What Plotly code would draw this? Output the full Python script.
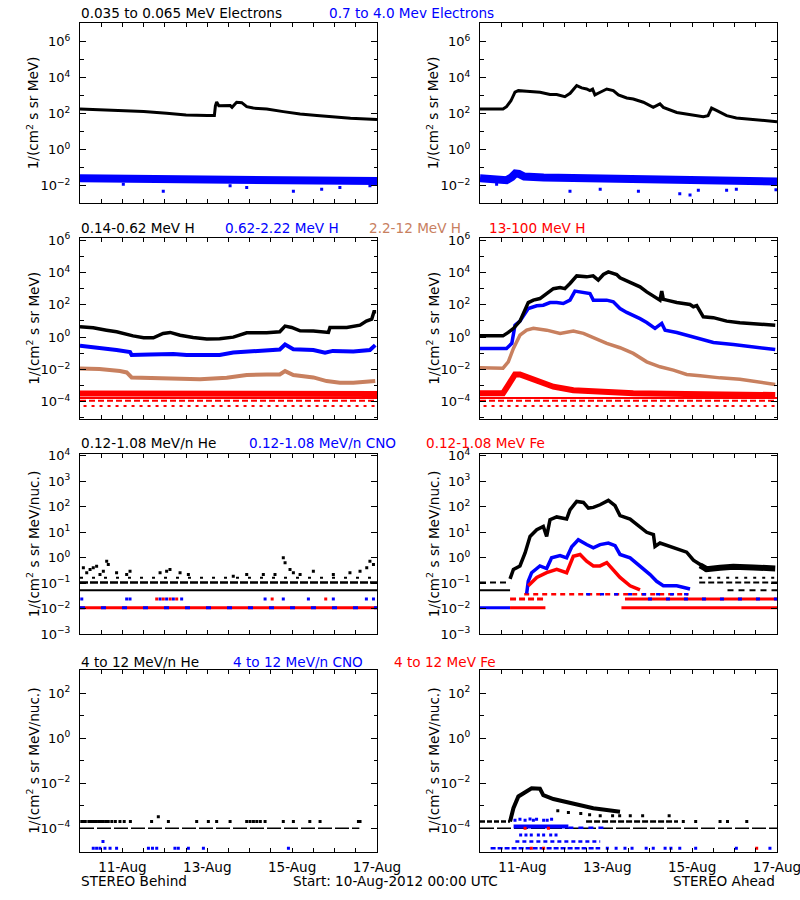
import plotly.graph_objects as go
from datetime import datetime, timedelta

BASE = datetime(2012, 8, 10)
BLACK, BLUE, BROWN, RED = "#000000", "#0000ff", "#c8805f", "#ff0000"
FONT = "DejaVu Sans"

# ---------------- data: hours after 10-Aug-2012 00:00 UTC, flux ----------------
# Row 1 electrons
eB_lo_h = [0, 11, 24.5, 36, 49, 60, 72, 76, 76.6, 77.3, 78.5, 85, 86, 88.6, 91.5, 94.3, 98, 105.6, 115, 124.5, 134, 143, 153, 162, 168]
eB_lo_v = [180, 166, 150, 130, 105, 85, 78, 78, 275, 450, 275, 280, 224, 430, 410, 245, 204, 180, 130, 95, 78, 65, 55, 50, 47]
eB_hi_h = [0, 24, 48, 72, 96, 120, 144, 168]
eB_hi_v = [0.026, 0.025, 0.023, 0.023, 0.021, 0.019, 0.019, 0.018]
eB_out_h = [24.5, 47.1, 84.9, 94.3, 120.7, 136.7, 147, 164]
eB_out_v = [0.012, 0.0049, 0.010, 0.008, 0.0049, 0.0064, 0.008, 0.010]

eA_lo_h = [0, 11, 13, 15, 17.5, 19.8, 21.7, 26.4, 34, 39.6, 43.4, 48, 51, 54.7, 57.5, 60.3, 62.2, 63.7, 65, 68,
           71.7, 75.4, 78.3, 83, 86.7, 92.4, 98, 101.8, 103.7, 111.3, 118.8, 126.3, 129, 131, 134, 139.5, 145, 154.6, 162, 168]
eA_lo_v = [180, 166, 180, 245, 520, 1550, 1900, 1740, 1550, 1150, 1150, 870, 1350, 3600, 2700, 2350, 1900, 2300, 1100, 1550,
           2350, 1900, 1100, 740, 650, 430, 224, 350, 224, 117, 87, 68, 78, 204, 148, 78, 58, 49, 41, 36]
eA_hi_h = [0, 12, 15, 18, 20, 22, 25, 36, 48, 72, 96, 120, 144, 168]
eA_hi_v = [0.026, 0.024, 0.020, 0.030, 0.048, 0.045, 0.032, 0.028, 0.027, 0.024, 0.021, 0.019, 0.018, 0.017]
eA_out_h = [9.4, 50.9, 68, 89.6, 113, 118.8, 123.5, 139.5, 145, 167.4]
eA_out_v = [0.012, 0.0049, 0.0064, 0.0049, 0.0035, 0.003, 0.0055, 0.0055, 0.0064, 0.006]

# Row 2 protons
pB1_h = [0, 7.5, 15, 20.7, 30, 36, 41.5, 47, 51, 56.6, 64, 71.7, 79, 86.7, 94.3, 105.6, 113, 116, 119.7, 124.5,
         132, 140.5, 141.4, 150.9, 158.4, 162, 165, 166.3, 167.5]
pB1_v = [4.4, 3.8, 2.7, 2.14, 1.2, 0.91, 0.91, 1.7, 1.95, 1.3, 0.95, 0.76, 0.8, 1.0, 1.86, 1.86, 2.14, 4.8, 4.0, 2.45,
         2.4, 1.95, 4.0, 4.0, 5.5, 9.8, 12.9, 37, 37]
pB2_h = [0, 11.3, 20.7, 28.3, 29.2, 39.6, 52.8, 60.3, 71.7, 79, 86.7, 98, 105.6, 113, 116, 120.7, 132, 138.6, 143, 154.6, 164, 167]
pB2_v = [0.29, 0.22, 0.16, 0.12, 0.078, 0.085, 0.09, 0.078, 0.085, 0.078, 0.11, 0.135, 0.16, 0.17, 0.35, 0.18, 0.16, 0.107, 0.14, 0.13, 0.16, 0.32]
pB3_h = [0, 11, 22.6, 26.4, 29.2, 39.6, 52.8, 67.9, 83, 94.3, 105.6, 113, 116, 120.7, 132, 139.5, 147, 154.6, 167]
pB3_v = [1.15e-2, 1.05e-2, 7.9e-3, 6.5e-3, 3.2e-3, 3.1e-3, 2.75e-3, 2.5e-3, 3.1e-3, 4.5e-3, 4.9e-3, 4.9e-3, 7.9e-3, 4.5e-3,
         3.2e-3, 1.9e-3, 1.5e-3, 1.5e-3, 1.9e-3]
pB4_h = [0, 168]
pB4_v = [3.2e-4, 3.0e-4]
p_red_levels = [1.7e-4, 1.15e-4, 5.5e-5]

pA1_h = [0, 13, 16, 19, 22.6, 27.3, 30.2, 33.9, 37.7, 41.5, 45.3, 48, 50.9, 54.7, 60.3, 64, 66.9, 69.8, 72.6, 77.3,
         79.2, 86.7, 90.5, 94.3, 99, 101.8, 102.8, 103.7, 105.6, 111.3, 118.8, 120.7, 122.6, 124.5, 126.3, 132, 139.5, 147, 154.6, 162, 167]
pA1_v = [1.2, 1.2, 1.95, 3.5, 9.8, 138, 195, 245, 500, 1000, 1170, 1000, 2100, 6200, 5400, 6200, 3400, 7600, 11000, 7600,
         4700, 2100, 1300, 630, 310, 195, 710, 220, 195, 138, 105, 76, 90, 37, 18, 16, 9.8, 7.8, 7.1, 6.0, 5.5]
pA2_h = [0, 15, 18, 19.8, 22.6, 27.3, 32.1, 35.8, 39.6, 43.4, 47.1, 50.9, 53.7, 58.5, 62.2, 64.1, 71.7, 75.4, 79.2, 83,
         86.7, 90.5, 94.3, 99, 102.8, 104.7, 111.3, 118.8, 124.5, 132, 143.3, 154.6, 167]
pA2_v = [0.2, 0.2, 0.41, 5.5, 9.8, 59, 87, 95, 138, 138, 120, 195, 710, 580, 500, 195, 195, 155, 59, 34,
         23, 14, 8.1, 3.5, 7.1, 2.7, 1.95, 1.2, 0.76, 0.47, 0.35, 0.25, 0.17]
pA3_h = [0, 13, 16, 18.9, 22.6, 26.4, 30.2, 37.7, 45.3, 52.8, 58.5, 64.1, 71.7, 79.2, 86.7, 94.3, 101.8, 109.4, 116.9, 124.5,
         135.8, 147, 158.4, 167]
pA3_v = [1.26e-2, 1.2e-2, 2.95e-2, 0.2, 1.32, 2.7, 3.5, 2.7, 1.7, 2.35, 1.7, 0.91, 0.41, 0.22, 9.8e-2, 2.95e-2, 1.45e-2, 9.1e-3,
         4.9e-3, 4.1e-3, 3.0e-3, 2.5e-3, 1.74e-3, 1.17e-3]
pA4_h = [0, 13, 16, 19.8, 22.6, 26.4, 34, 41.5, 52.8, 67.9, 86.7, 105.6, 167]
pA4_v = [3.3e-4, 3.3e-4, 1.07e-3, 4.9e-3, 4.9e-3, 3.5e-3, 1.74e-3, 8.5e-4, 5.2e-4, 4.2e-4, 3.3e-4, 3.1e-4, 2.6e-4]

# Row 3 low-energy heavy ions
hB_sc_h = [1.9, 3.8, 5.7, 7.5, 9.4, 11.3, 13.2, 15.1, 16, 20.7, 26.4, 28.3, 45.3, 49, 50.9, 56.6, 61.3, 86.7, 94.3, 103.7,
           110.3, 115, 116, 118.8, 120.7, 124.5, 132, 143.3, 152.7, 158.4, 162.2, 164, 166]
hB_sc_v = [0.41, 0.26, 0.35, 0.41, 0.47, 0.22, 0.30, 0.74, 0.55, 0.26, 0.22, 0.30, 0.26, 0.30, 0.35, 0.26, 0.22, 0.19, 0.22, 0.22,
           0.22, 1.0, 0.64, 0.35, 0.26, 0.22, 0.30, 0.22, 0.26, 0.30, 0.41, 0.74, 0.55]
hB_blue024_h = [1, 26.4, 28.3, 45.3, 49, 52.8, 57.5, 104.7, 115, 129.2, 143.3, 162, 166]
hB_blue024_v = [0.024, 0.024, 0.024, 0.024, 0.024, 0.024, 0.024, 0.024, 0.024, 0.024, 0.024, 0.024, 0.024]
hB_red024_h = [43.4, 47.1, 51, 54.7, 108.7, 139]
hB_red024_v = [0.024, 0.024, 0.024, 0.024, 0.024, 0.024]

hA1_h = [17, 18.9, 22.6, 25.5, 28.3, 32.1, 35.8, 37.7, 39.6, 43.4, 49, 50.9, 54.7, 58.5, 61.3, 64.1, 67.9, 72.6, 76.4, 79.2,
         84.9, 88.6, 94.3, 98.1, 99.0, 101.8, 109.4, 116.9, 120.7, 124.5, 128.2]
hA1_v = [0.15, 0.35, 0.48, 1.55, 6.9, 12.6, 17, 6.9, 31, 40, 33, 76, 162, 148, 89, 95, 120, 178, 110, 45,
         33, 20, 10, 8.1, 2.8, 3.8, 2.45, 1.66, 0.81, 0.55, 0.30]
hA1t_h = [124.5, 128.2, 135.8, 143.3, 154.6, 167]
hA1t_v = [0.5, 0.36, 0.41, 0.45, 0.42, 0.38]
hA2_h = [26.4, 27.3, 29.2, 33.9, 37.7, 40.5, 45.3, 49, 51.9, 55.6, 60.3, 64.1, 67.9, 72.6, 76.4, 79.2, 84.9, 90.5, 96.2, 99.9,
         103.7, 111.3, 118.8]
hA2_v = [0.04, 0.12, 0.26, 0.48, 0.38, 1.0, 1.23, 1.0, 2.7, 5.1, 3.3, 2.45, 3.3, 3.8, 3.0, 1.35, 1.0, 0.48, 0.22, 0.12,
         0.08, 0.08, 0.06]
hA3_h = [27.3, 32.1, 37.7, 43.4, 49, 52.8, 56.6, 60.3, 64.1, 67.9, 71.7, 75.4, 79.2, 84.9, 90.5]
hA3_v = [0.08, 0.17, 0.26, 0.35, 0.26, 1.15, 1.35, 0.74, 0.48, 0.48, 0.65, 0.35, 0.17, 0.08, 0.055]

# Row 4 high-energy heavy ions
kB_blk2_h = [1, 2, 3, 5, 6.5, 8, 9, 10.5, 12, 13, 14.5, 16, 18, 20, 22.6, 25, 28.5, 40.5, 44.3, 50, 66, 72.6, 77.3, 84.9,
             94.3, 96.2, 98.1, 100, 102, 104.7, 115, 120.7, 130, 135.8, 157.5, 158.4]
kB_blk2_v = [2e-4, 2e-4, 2e-4, 2e-4, 2e-4, 2e-4, 2e-4, 2e-4, 2e-4, 2e-4, 2e-4, 2e-4, 2e-4, 2e-4, 2e-4, 2e-4, 2e-4, 2e-4, 3.3e-4, 2e-4,
             2e-4, 2e-4, 2e-4, 2e-4, 2e-4, 2e-4, 2e-4, 2e-4, 2e-4, 2e-4, 2e-4, 2e-4, 2e-4, 2e-4, 2e-4, 2e-4]
kB_blue_h = [7.5, 9.4, 11.3, 13, 14.1, 17, 20.7, 38.7, 41, 43.4, 53.7, 55.6, 61.3, 69.8, 117.9]
kB_blue_v = [1.3e-5, 1.3e-5, 1.3e-5, 2.6e-5, 1.3e-5, 1.3e-5, 1.3e-5, 1.3e-5, 1.3e-5, 1.3e-5, 1.3e-5, 1.3e-5, 1.3e-5, 1.3e-5, 1.3e-5]

kA1_h = [17, 18.9, 21.7, 24.5, 29.2, 33.9, 35.8, 41.5, 49, 56.6, 64.1, 71.7, 79.2]
kA1_v = [2e-4, 7.8e-4, 2.6e-3, 3.6e-3, 6.0e-3, 5.8e-3, 3.0e-3, 2.0e-3, 1.45e-3, 1.1e-3, 7.8e-4, 6.5e-4, 5.5e-4]
kA_blk_pts_h = [44, 50, 57, 62, 68, 75, 79, 85, 92, 107, 115, 122, 135.8, 140, 150.9]
kA_blk_pts_v = [6e-4, 5e-4, 4.5e-4, 4e-4, 3.6e-4, 3.6e-4, 3.6e-4, 3.6e-4, 3.6e-4, 3.6e-4, 2e-4, 2e-4, 2e-4, 2e-4, 2e-4]
kA_blue_hi_h = [19.8, 22.6, 25.5, 28.3, 30.2, 32, 36, 38, 40.5]
kA_blue_hi_v = [2.3e-4, 2.5e-4, 2.3e-4, 2.6e-4, 2.3e-4, 2.5e-4, 2.3e-4, 2.3e-4, 2.5e-4]
kA_blue_mid_h = [23, 26, 29, 33, 36, 40, 43]
kA_blue_mid_v = [5e-5, 5e-5, 5e-5, 5e-5, 5e-5, 5e-5, 5e-5]
kA_blue_lo_h = [72, 77, 82, 86, 94, 98, 104.7, 108, 113, 122, 145, 164]
kA_blue_lo_v = [1.3e-5, 1.3e-5, 1.3e-5, 1.3e-5, 1.3e-5, 1.3e-5, 1.3e-5, 1.3e-5, 1.3e-5, 1.3e-5, 1.3e-5, 1.3e-5]
kA_red_h = [25.5, 38.7, 29, 36, 156.5]
kA_red_v = [1e-4, 1e-4, 1.3e-5, 1.3e-5, 1.3e-5]

# --------------------------------- figure ---------------------------------------
fig = go.Figure()


def T(hours):
    return [BASE + timedelta(hours=h) for h in hours]


def ax(p):
    return ("x" if p == 1 else f"x{p}"), ("y" if p == 1 else f"y{p}")


def line(p, h, v, color, width, dash=None):
    xa, ya = ax(p)
    fig.add_trace(go.Scatter(x=T(h), y=v, mode="lines", xaxis=xa, yaxis=ya,
                             line=dict(color=color, width=width, dash=dash),
                             showlegend=False, hoverinfo="skip"))


def level(p, h0, h1, val, color, width, dash=None):
    line(p, [h0, h1], [val, val], color, width, dash)


def dots(p, h, v, color, size=3):
    xa, ya = ax(p)
    fig.add_trace(go.Scatter(x=T(h), y=v, mode="markers", xaxis=xa, yaxis=ya,
                             marker=dict(color=color, size=size, symbol="square", line=dict(width=0)),
                             showlegend=False, hoverinfo="skip"))


# panel 1 / 2: electrons
line(1, eB_hi_h, eB_hi_v, BLUE, 8)
dots(1, eB_out_h, eB_out_v, BLUE, 3)
line(1, eB_lo_h, eB_lo_v, BLACK, 3)
line(2, eA_hi_h, eA_hi_v, BLUE, 8)
dots(2, eA_out_h, eA_out_v, BLUE, 3)
line(2, eA_lo_h, eA_lo_v, BLACK, 3)

# panel 3 / 4: protons
for p in (3, 4):
    level(p, 0, 168, p_red_levels[0], RED, 2)
    level(p, 0, 168, p_red_levels[1], RED, 2, "6px,3px")
    level(p, 2, 168, p_red_levels[2], RED, 2, "3px,5px")
line(3, pB4_h, pB4_v, RED, 6)
line(3, pB3_h, pB3_v, BROWN, 4)
line(3, pB2_h, pB2_v, BLUE, 4)
line(3, pB1_h, pB1_v, BLACK, 3.5)
line(4, pA4_h, pA4_v, RED, 6)
line(4, pA3_h, pA3_v, BROWN, 3.5)
line(4, pA2_h, pA2_v, BLUE, 3.5)
line(4, pA1_h, pA1_v, BLACK, 3.5)

# panel 5: low-energy ions, Behind
level(5, 0, 168, 0.053, BLACK, 2)
level(5, 0, 168, 0.107, BLACK, 2.5, "8px,2px")
level(5, 0, 168, 0.165, BLACK, 2, "3px,9px")
dots(5, hB_sc_h, hB_sc_v, BLACK, 3)
level(5, 0, 168, 0.011, RED, 3)
level(5, 0, 168, 0.011, BLUE, 3, "5px,16px")
dots(5, hB_blue024_h, hB_blue024_v, BLUE, 3)
dots(5, hB_red024_h, hB_red024_v, RED, 3)

# panel 6: low-energy ions, Ahead
level(6, 0, 17, 0.053, BLACK, 2)
level(6, 0, 17, 0.107, BLACK, 2, "6px,4px")
level(6, 124, 168, 0.107, BLACK, 2, "6px,3px")
level(6, 124, 168, 0.165, BLACK, 2, "3px,6px")
level(6, 140, 168, 0.053, BLACK, 2, "6px,5px")
level(6, 0, 17, 0.011, BLUE, 3)
level(6, 17, 37, 0.011, RED, 3)
level(6, 80, 168, 0.011, RED, 3)
level(6, 17, 37, 0.024, RED, 3, "6px,3px")
level(6, 82, 168, 0.024, RED, 3)
level(6, 95, 168, 0.024, BLUE, 3, "4px,14px")
level(6, 25, 118, 0.037, RED, 2.5, "5px,4px")
level(6, 60, 118, 0.037, BLUE, 2.5, "4px,10px")
line(6, hA1t_h, hA1t_v, BLACK, 6)
line(6, hA1_h, hA1_v, BLACK, 3.5)
line(6, hA2_h, hA2_v, BLUE, 3.5)
line(6, hA3_h, hA3_v, RED, 3.5)

# panel 7: high-energy ions, Behind
level(7, 0, 158, 1e-4, BLACK, 1.5, "14px,3px")
dots(7, kB_blk2_h, kB_blk2_v, BLACK, 3)
dots(7, kB_blue_h, kB_blue_v, BLUE, 3)

# panel 8: high-energy ions, Ahead
level(8, 0, 168, 1e-4, BLACK, 1.5, "14px,3px")
level(8, 0, 17, 2e-4, BLACK, 2.5, "5px,2px")
level(8, 60, 112, 2e-4, BLACK, 2.5, "6px,2px")
dots(8, kA_blk_pts_h, kA_blk_pts_v, BLACK, 3)
line(8, kA1_h, kA1_v, BLACK, 4)
level(8, 19, 50, 1.2e-4, BLUE, 4)
level(8, 50, 72, 1.05e-4, BLUE, 2.5, "5px,5px")
dots(8, kA_blue_hi_h, kA_blue_hi_v, BLUE, 3)
dots(8, kA_blue_mid_h, kA_blue_mid_v, BLUE, 3)
level(8, 20, 68, 2.6e-5, BLUE, 2.5, "4px,3px")
level(8, 6, 68, 1.3e-5, BLUE, 2.5, "5px,2px")
dots(8, kA_blue_lo_h, kA_blue_lo_v, BLUE, 3)
dots(8, kA_red_h, kA_red_v, RED, 3)

# --------------------------------- axes ----------------------------------------
W, H = 800, 900


def PX(x):
    return x / W


def PY(y):
    return 1 - y / H


col_px = [(80, 377), (480, 777)]
row_px = [(23.3, 203.3), (238.3, 419), (454, 634.3), (670, 851.7)]
y_ranges = [[-2.98, 7.02], [-5.07, 6.12], [-3.0, 4.07], [-5.04, 3.04]]
y_major = [[-2, 0, 2, 4, 6], [-4, -2, 0, 2, 4, 6], [-3, -2, -1, 0, 1, 2, 3, 4], [-4, -2, 0, 2]]
y_minor = [[-1, 1, 3, 5], [-5, -3, -1, 1, 3, 5], [], [-5, -3, -1, 1, 3]]


def lab(e):
    return "10<sup>%s</sup>" % (str(e).replace("-", "\u2212"))


xmajor_h = [24, 72, 120, 168]
xmajor_lab = ["11-Aug", "13-Aug", "15-Aug", "17-Aug"]
xminor_h = [12, 36, 48, 60, 84, 96, 108, 132, 144, 156]

layout = dict(width=W, height=H, margin=dict(l=0, r=0, t=0, b=0, autoexpand=False),
              paper_bgcolor="white", plot_bgcolor="white",
              font=dict(family=FONT, size=13, color="black"), showlegend=False)
for p in range(1, 9):
    r, c = (p - 1) // 2, (p - 1) % 2
    xn = "xaxis" if p == 1 else f"xaxis{p}"
    yn = "yaxis" if p == 1 else f"yaxis{p}"
    xa, ya = ax(p)
    top, bot = row_px[r]
    left, right = col_px[c]
    layout[xn] = dict(domain=[PX(left), PX(right)], anchor=ya, type="date",
                      range=[BASE, BASE + timedelta(hours=168)],
                      tickmode="array", tickvals=T(xmajor_h), ticktext=xmajor_lab, showticklabels=(r == 3),
                      ticks="inside", ticklen=4, tickcolor="black", tickwidth=1, ticklabeloverflow="allow",
                      minor=dict(tickmode="array", tickvals=T(xminor_h), ticks="inside", ticklen=4,
                                 tickcolor="black", tickwidth=1, showgrid=False),
                      showline=True, linecolor="black", linewidth=1, mirror="ticks", automargin=False,
                      showgrid=False, zeroline=False, ticklabelstandoff=3,
                      tickfont=dict(family=FONT, size=13.6))
    layout[yn] = dict(domain=[PY(bot), PY(top)], anchor=xa, type="log", range=y_ranges[r],
                      tickmode="array", tickvals=[10.0 ** e for e in y_major[r]],
                      ticktext=[lab(e) for e in y_major[r]],
                      ticks="inside", ticklen=6, tickcolor="black", tickwidth=1,
                      minor=dict(tickmode="array", tickvals=[10.0 ** e for e in y_minor[r]], ticks="inside",
                                 ticklen=3.5, tickcolor="black", tickwidth=1, showgrid=False),
                      showline=True, linecolor="black", linewidth=1, mirror="ticks", automargin=False,
                      showgrid=False, zeroline=False, ticklabelstandoff=6,
                      tickfont=dict(family=FONT, size=13))
fig.update_layout(**layout)

# --------------------------------- text ----------------------------------------
titles = [
    (13, [("0.035 to 0.065 MeV Electrons", 80, BLACK), ("0.7 to 4.0 Mev Electrons", 328, BLUE)]),
    (228, [("0.14-0.62 MeV H", 80, BLACK), ("0.62-2.22 MeV H", 224, BLUE), ("2.2-12 MeV H", 368, BROWN),
           ("13-100 MeV H", 488, RED)]),
    (443, [("0.12-1.08 MeV/n He", 80, BLACK), ("0.12-1.08 MeV/n CNO", 248, BLUE), ("0.12-1.08 MeV Fe", 425, RED)]),
    (662, [("4 to 12 MeV/n He", 80, BLACK), ("4 to 12 MeV/n CNO", 232, BLUE), ("4 to 12 MeV Fe", 393, RED)]),
]
ann = []
for ypx, items in titles:
    for txt, xpx, col in items:
        ann.append(dict(text=txt, x=PX(xpx), y=PY(ypx), xref="paper", yref="paper", xanchor="left",
                        yanchor="middle", showarrow=False, borderpad=0,
                        font=dict(color=col, size=13.6, family=FONT)))

ytitles = ["1/(cm<sup>2</sup> s sr MeV)", "1/(cm<sup>2</sup> s sr MeV)",
           "1/(cm<sup>2</sup> s sr MeV/nuc.)", "1/(cm<sup>2</sup> s sr MeV/nuc.)"]
for r in range(4):
    top, bot = row_px[r]
    for c, xpx in enumerate([33, 433]):
        ann.append(dict(text=ytitles[r], x=PX(xpx), y=PY((top + bot) / 2), xref="paper", yref="paper",
                        xanchor="center", yanchor="middle", textangle=-90, showarrow=False, borderpad=0,
                        font=dict(size=13.6, family=FONT)))

for txt, xpx, anc in [("STEREO Behind", 80, "left"), ("Start: 10-Aug-2012 00:00 UTC", 292, "left"),
                      ("STEREO Ahead", 776, "right")]:
    ann.append(dict(text=txt, x=PX(xpx), y=PY(881), xref="paper", yref="paper", xanchor=anc,
                    yanchor="middle", showarrow=False, borderpad=0, font=dict(size=13.6, family=FONT)))
fig.update_layout(annotations=ann)

# the page's default 8px body margin would push the 800x900 figure off the window
fig.write_html("out.html", config={"displayModeBar": False},
               post_script="document.body.style.margin='0';")
